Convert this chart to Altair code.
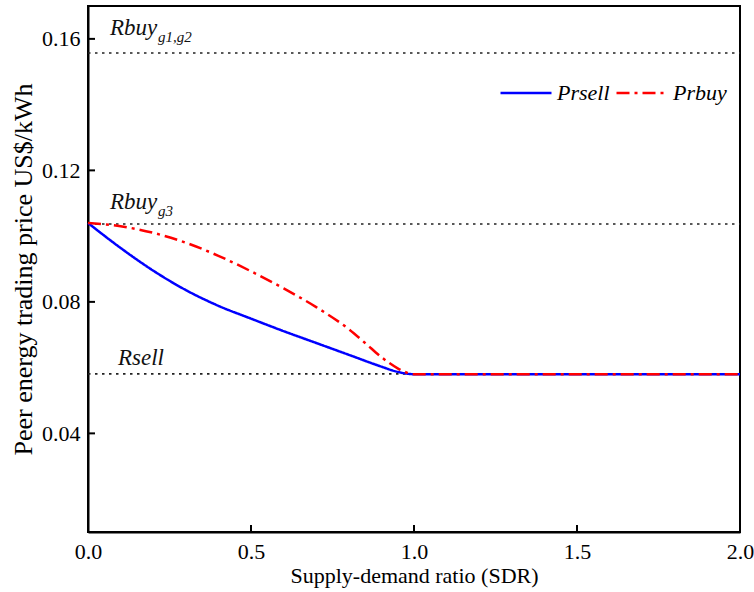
import altair as alt
import pandas as pd

# ---- data ----
prsell_x = [0.0, 0.1, 0.2, 0.3, 0.4, 0.5, 0.6, 0.7, 0.8, 0.9, 0.95, 1.0, 1.5, 2.0]
prsell_y = [0.104, 0.0964, 0.0895, 0.0836, 0.0788, 0.0749, 0.0711, 0.0675, 0.0639, 0.0603, 0.0587, 0.058, 0.058, 0.058]

prbuy_x = [0.0, 0.1, 0.2, 0.3, 0.4, 0.5, 0.6, 0.7, 0.8, 0.85, 0.9, 0.95, 0.98, 1.0, 1.5, 2.0]
prbuy_y = [0.104, 0.1030, 0.1010, 0.0980, 0.0940, 0.0893, 0.0841, 0.0784, 0.0717, 0.0675, 0.0632, 0.0598, 0.0584, 0.058, 0.058, 0.058]

series_names = ["Prsell", "Prbuy"]
series_colors = ["#0000FF", "#FF0000"]

rbuy_g12 = 0.1557
rbuy_g3 = 0.1037
rsell = 0.0581

y_ticks = [0.04, 0.08, 0.12, 0.16]
x_ticks = [0.0, 0.5, 1.0, 1.5, 2.0]

FONT = "Liberation Serif"
W, H = 652, 526

rows = []
for x, y in zip(prsell_x, prsell_y):
    rows.append({"series": "Prsell", "x": x, "y": y})
for x, y in zip(prbuy_x, prbuy_y):
    rows.append({"series": "Prbuy", "x": x, "y": y})
df = pd.DataFrame(rows)

xscale = alt.Scale(domain=[0, 2], nice=False, zero=False)
yscale = alt.Scale(domain=[0.01, 0.17], nice=False, zero=False)

xaxis = alt.Axis(values=x_ticks, format=".1f", title="Supply-demand ratio (SDR)",
                 ticks=False, tickSize=0, labelPadding=9, grid=False,
                 labelFlush=False, labelOverlap=False,
                 domainColor="black", domainWidth=2,
                 labelFont=FONT, labelFontSize=22, labelColor="black",
                 titleFont=FONT, titleFontSize=22, titleFontWeight="normal",
                 titleColor="black", titlePadding=3)
yaxis = alt.Axis(values=y_ticks, format=".2f", title="Peer energy trading price US$/kWh",
                 ticks=False, tickSize=0, labelPadding=8, grid=False,
                 labelFlush=False,
                 domainColor="black", domainWidth=2,
                 labelFont=FONT, labelFontSize=22, labelColor="black",
                 titleFont=FONT, titleFontSize=26, titleFontWeight="normal",
                 titleColor="black", titlePadding=5)

legend = alt.Legend(orient="none", legendX=411, legendY=60, direction="horizontal",
                    title=None, symbolType="stroke", symbolSize=2600,
                    symbolStrokeWidth=2.5, labelFont=FONT, labelFontStyle="italic",
                    labelFontSize=22, labelColor="black", labelOffset=4,
                    columnPadding=1)

lines = alt.Chart(df).mark_line(strokeWidth=2.5, interpolate="monotone").encode(
    x=alt.X("x:Q", scale=xscale, axis=xaxis),
    y=alt.Y("y:Q", scale=yscale, axis=yaxis),
    color=alt.Color("series:N", scale=alt.Scale(domain=series_names, range=series_colors),
                    legend=legend),
    strokeDash=alt.StrokeDash("series:N",
                              scale=alt.Scale(domain=series_names, range=[[1, 0], [13, 5, 3, 5]]),
                              legend=legend),
    order=alt.Order("x:Q"),
)

ref_df = pd.DataFrame({"v": [rbuy_g12, rbuy_g3, rsell]})
refs = alt.Chart(ref_df).mark_rule(color="#222222", strokeWidth=1.6, strokeDash=[2.5, 4.5]).encode(
    y=alt.Y("v:Q", scale=yscale),
    x=alt.value(0), x2=alt.value(W),
)

def label(text, value, px, dy, size=23):
    return alt.Chart(pd.DataFrame({"v": [value], "t": [text]})).mark_text(
        font=FONT, fontStyle="italic", fontSize=size, align="left",
        baseline="alphabetic", dy=dy, color="#111111"
    ).encode(y=alt.Y("v:Q", scale=yscale), x=alt.value(px), text="t:N")

labels = [
    label("Rbuy", rbuy_g12, 22, -18),
    label("g1,g2", rbuy_g12, 70, -11, 15),
    label("Rbuy", rbuy_g3, 22, -15),
    label("g3", rbuy_g3, 70, -8, 15),
    label("Rsell", rsell, 30, -9),
]

ytick_layer = alt.Chart(pd.DataFrame({"v": y_ticks})).mark_rule(color="black", strokeWidth=2).encode(
    y=alt.Y("v:Q", scale=yscale), x=alt.value(0), x2=alt.value(7)
)
xtick_layer = alt.Chart(pd.DataFrame({"v": x_ticks})).mark_rule(color="black", strokeWidth=2).encode(
    x=alt.X("v:Q", scale=xscale), y=alt.value(H), y2=alt.value(H - 7)
)

chart = alt.layer(refs, *labels, ytick_layer, xtick_layer, lines).properties(
    width=W, height=H,
    autosize=alt.AutoSizeParams(type="none"),
    padding={"left": 88, "top": 6, "right": 14, "bottom": 60},
    background="white",
).configure_view(stroke="black", strokeWidth=2)

chart.save("out.html", embed_options={"renderer": "svg", "actions": False})
